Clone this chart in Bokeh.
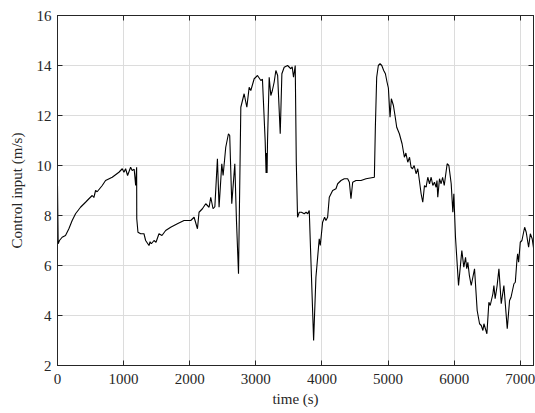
from bokeh.plotting import figure
from bokeh.models import LinearAxis, Range1d, FixedTicker, CustomJSTickFormatter
from bokeh.embed import file_html
from bokeh.resources import INLINE

time_s = [0, 10, 30, 70, 121, 172, 222, 273, 348, 424, 475, 525, 550, 576, 600, 677, 727, 828, 929,
          980, 1005, 1030, 1060, 1106, 1130, 1160, 1182, 1197, 1199, 1217, 1258, 1308, 1333, 1384, 1400,
          1420, 1460, 1490, 1535, 1580, 1636, 1712, 1813, 1914, 2015, 2066, 2117, 2141, 2192, 2242,
          2293, 2318, 2353, 2380, 2419, 2444, 2485, 2505, 2545, 2586, 2605, 2636, 2682, 2707, 2738,
          2773, 2823, 2864, 2899, 2924, 2975, 3025, 3076, 3100, 3141, 3155, 3162, 3170, 3177, 3202,
          3227, 3250, 3277, 3303, 3330, 3369, 3394, 3429, 3480, 3530, 3550, 3570, 3596, 3612, 3631,
          3657, 3690, 3732, 3760, 3785, 3808, 3874, 3909, 3959, 3975, 4010, 4040, 4060, 4086, 4111,
          4162, 4212, 4238, 4288, 4338, 4389, 4415, 4439, 4465, 4515, 4591, 4667, 4793, 4808, 4828,
          4853, 4879, 4905, 4934, 4960, 4985, 5005, 5030, 5050, 5081, 5105, 5131, 5171, 5212, 5247,
          5270, 5298, 5325, 5348, 5370, 5395, 5424, 5450, 5474, 5500, 5525, 5551, 5575, 5601, 5627,
          5652, 5677, 5702, 5727, 5740, 5752, 5778, 5803, 5825, 5850, 5894, 5920, 5955, 5980, 5995,
          6020, 6066, 6116, 6146, 6172, 6190, 6207, 6230, 6258, 6308, 6348, 6384, 6410, 6435, 6450,
          6495, 6525, 6545, 6586, 6601, 6620, 6650, 6677, 6712, 6752, 6803, 6838, 6860, 6904, 6925,
          6949, 6960, 6975, 7000, 7025, 7066, 7090, 7126, 7152, 7180, 7202]
control_input = [9.2, 6.87, 7.0, 7.13, 7.2, 7.47, 7.8, 8.07, 8.33, 8.53, 8.67, 8.8, 8.72, 9.0, 8.95, 9.2, 9.4,
                 9.53, 9.73, 9.87, 9.73, 9.87, 9.6, 9.93, 9.8, 9.85, 9.2, 9.93, 7.87, 7.33, 7.27, 7.27,
                 7.0, 6.8, 6.95, 6.87, 7.0, 6.93, 7.27, 7.2, 7.4, 7.53, 7.67, 7.8, 7.8, 7.93, 7.47, 8.13,
                 8.27, 8.47, 8.33, 8.73, 8.27, 8.35, 10.27, 8.33, 10.07, 9.6, 10.73, 11.27, 11.2, 8.47,
                 10.07, 7.8, 5.67, 12.33, 12.87, 12.33, 13.13, 13.0, 13.47, 13.6, 13.4, 13.45, 11.0,
                 9.7, 10.5, 9.7, 11.0, 13.53, 12.8, 13.0, 13.33, 13.8, 13.6, 11.27, 13.67, 13.93, 14.0,
                 13.87, 13.95, 13.53, 14.0, 10.13, 7.93, 8.13, 8.13, 8.07, 8.13, 8.07, 8.2, 3.0, 5.53,
                 7.07, 6.8, 7.73, 7.93, 7.8, 7.93, 8.73, 9.0, 9.07, 9.27, 9.4, 9.47, 9.47, 9.33, 8.67,
                 9.33, 9.4, 9.4, 9.47, 9.53, 11.53, 13.53, 14.0, 14.07, 14.0, 13.8, 13.67, 13.33, 13.1,
                 11.93, 12.67, 12.4, 12.0, 11.53, 11.27, 10.87, 10.33, 10.5, 10.13, 10.33, 9.93, 9.87,
                 10.0, 9.67, 9.87, 9.4, 8.87, 8.53, 9.2, 9.13, 9.53, 9.27, 9.53, 9.2, 9.33, 9.13, 9.4,
                 8.73, 9.47, 9.27, 9.53, 9.2, 10.07, 10.0, 9.27, 8.13, 8.87, 7.13, 5.2, 6.6, 5.93, 6.33,
                 5.87, 6.13, 5.6, 5.2, 5.87, 4.2, 3.67, 3.6, 3.4, 3.67, 3.27, 4.53, 4.4, 4.87, 5.2, 4.67,
                 5.2, 5.87, 4.47, 5.2, 3.47, 4.6, 4.73, 5.27, 5.33, 6.2, 6.47, 6.13, 6.93, 7.0, 7.53,
                 7.33, 6.73, 7.27, 7.07, 6.67]

x_ticks = [0, 1000, 2000, 3000, 4000, 5000, 6000, 7000]
y_ticks = [2, 4, 6, 8, 10, 12, 14, 16]

FONT = "Liberation Serif"
INK = "#262626"

p = figure(width=535, height=413, output_backend="svg", toolbar_location=None,
           x_range=Range1d(0, 7200), y_range=Range1d(2, 16),
           min_border_left=57, min_border_right=2, min_border_top=15, min_border_bottom=48,
           x_axis_label="time (s)", y_axis_label="Control input (m/s)")
p.background_fill_color = "white"
p.border_fill_color = "white"
p.outline_line_color = INK
p.outline_line_width = 1

p.line(time_s, control_input, line_color="black", line_width=1.1)

for ax in (p.xaxis[0], p.yaxis[0]):
    ax.major_tick_in = 5
    ax.major_tick_out = 0
    ax.minor_tick_in = 0
    ax.minor_tick_out = 0
    ax.axis_line_color = INK
    ax.major_tick_line_color = INK
    ax.major_label_text_font = FONT
    ax.major_label_text_font_size = "15px"
    ax.major_label_text_color = INK
    ax.axis_label_text_font = FONT
    ax.axis_label_text_font_size = "15px"
    ax.axis_label_text_font_style = "normal"
    ax.axis_label_text_color = INK

p.xaxis[0].ticker = FixedTicker(ticks=x_ticks)
p.yaxis[0].ticker = FixedTicker(ticks=y_ticks)
p.xaxis[0].major_label_standoff = 8
p.xaxis[0].axis_label_standoff = 4
p.yaxis[0].major_label_standoff = 6
p.yaxis[0].axis_label_standoff = 9

blank = CustomJSTickFormatter(code="return '';")
top = LinearAxis(ticker=FixedTicker(ticks=x_ticks), formatter=blank,
                 major_tick_in=5, major_tick_out=0, minor_tick_in=0, minor_tick_out=0,
                 axis_line_color=INK, major_tick_line_color=INK, major_label_standoff=0)
right = LinearAxis(ticker=FixedTicker(ticks=y_ticks), formatter=blank,
                   major_tick_in=5, major_tick_out=0, minor_tick_in=0, minor_tick_out=0,
                   axis_line_color=INK, major_tick_line_color=INK, major_label_standoff=0)
p.add_layout(top, "above")
p.add_layout(right, "right")

p.xgrid.ticker = FixedTicker(ticks=x_ticks)
p.ygrid.ticker = FixedTicker(ticks=y_ticks)
p.grid.grid_line_color = "#dcdcdc"
p.grid.grid_line_width = 1

open("out.html", "w").write(file_html(p, INLINE))
